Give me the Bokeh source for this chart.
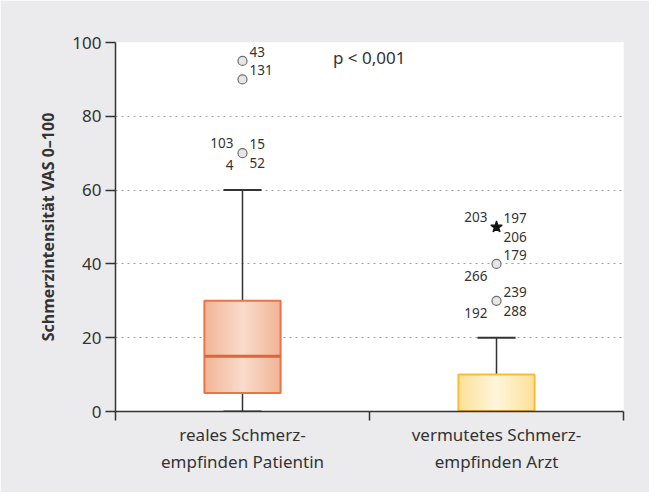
from bokeh.plotting import figure
from bokeh.models import Range1d, FixedTicker, ColumnDataSource, Label
from bokeh.core.properties import value
from bokeh.embed import file_html
from bokeh.resources import INLINE

# ---- data ----
categories = ["reales Schmerz-\nempfinden Patientin", "vermutetes Schmerz-\nempfinden Arzt"]
q1 = [5, 0]
median = [15, 0]
q3 = [30, 10]
whisker_low = [0, 0]
whisker_high = [60, 20]

# outliers: group index, value, marker type
out_group = [0, 0, 0, 1, 1, 1]
out_value = [95, 90, 70, 50, 40, 30]
out_marker = ["circle", "circle", "circle", "star", "circle", "circle"]
# case-number labels for each outlier, with placement (ul, ur, ll, lr)
lab_group = [0, 0, 0, 0, 0, 0, 1, 1, 1, 1, 1, 1, 1, 1]
lab_value = [95, 90, 70, 70, 70, 70, 50, 50, 50, 40, 40, 30, 30, 30]
lab_text = ["43", "131", "103", "15", "4", "52", "203", "197", "206", "179", "266", "239", "192", "288"]
lab_place = ["ur", "ur", "ul", "ur", "ll", "lr", "ul", "ur", "lr", "ur", "ll", "ur", "ll", "lr"]

y_ticks = [0, 20, 40, 60, 80, 100]
p_text = "p < 0,001"
y_title = "Schmerzintensität VAS 0–100"

FONT = "Noto Sans"
TXT = "#333333"

box_edge = ["#f1b597", "#fde099"]
box_mid = ["#f9dbcb", "#fff5d9"]
box_line = ["#e8744a", "#f9bd34"]
median_col = ["#e0643a", "#f6b52c"]

centers = [i + 0.5 for i in range(len(categories))]
bw = 0.3

p = figure(frame_width=508, frame_height=369,
           x_range=Range1d(0, len(categories)), y_range=Range1d(0, 100),
           output_backend="svg", toolbar_location=None,
           min_border_left=115, min_border_top=42, min_border_right=26, min_border_bottom=81,
           background_fill_color="white", border_fill_color="#ebebed")
p.outline_line_color = None
p.xgrid.grid_line_color = None
p.ygrid.grid_line_color = "#a0a0a0"
p.ygrid.grid_line_dash = "2 4"
p.ygrid.grid_line_width = 1

# axes
p.yaxis.ticker = FixedTicker(ticks=y_ticks, minor_ticks=[])
p.yaxis.major_tick_out = 10
p.yaxis.major_tick_in = 0
p.yaxis.major_label_standoff = 4
p.yaxis.axis_label = y_title
p.yaxis.axis_label_text_font = FONT
p.yaxis.axis_label_text_font_style = "bold"
p.yaxis.axis_label_text_font_size = "16px"
p.yaxis.axis_label_text_color = TXT
p.yaxis.axis_label_standoff = 10

p.xaxis.ticker = FixedTicker(ticks=centers, minor_ticks=list(range(len(categories) + 1)))
p.xaxis.major_label_overrides = {c: lab for c, lab in zip(centers, categories)}
p.xaxis.major_tick_out = 0
p.xaxis.major_tick_in = 0
p.xaxis.minor_tick_out = 9
p.xaxis.minor_tick_in = 0
p.xaxis.major_label_standoff = 2

for ax in (p.xaxis[0], p.yaxis[0]):
    ax.axis_line_color = "#333333"
    ax.axis_line_width = 1.5
    ax.major_tick_line_color = "#333333"
    ax.major_tick_line_width = 1.5
    ax.minor_tick_line_color = "#333333"
    ax.minor_tick_line_width = 1.5
    ax.major_label_text_font = FONT
    ax.major_label_text_font_size = "17px"
    ax.major_label_text_color = TXT


def hex2rgb(h):
    h = h.lstrip("#")
    return tuple(int(h[i:i + 2], 16) for i in (0, 2, 4))


def mix(a, b, t):
    ra, rb = hex2rgb(a), hex2rgb(b)
    return "#%02x%02x%02x" % tuple(int(round(x + (y - x) * t)) for x, y in zip(ra, rb))


# whiskers + caps
for i, c in enumerate(centers):
    p.segment(x0=[c, c], y0=[q3[i], q1[i]], x1=[c, c], y1=[whisker_high[i], whisker_low[i]],
              line_color="#333333", line_width=1.5)
    p.segment(x0=[c - bw / 4, c - bw / 4], y0=[whisker_high[i], whisker_low[i]],
              x1=[c + bw / 4, c + bw / 4], y1=[whisker_high[i], whisker_low[i]],
              line_color="#333333", line_width=2)

# boxes with horizontal gradient (overlapping strips, drawn outer to inner)
N = 30
for i, c in enumerate(centers):
    left = c - bw / 2
    p.quad(left=[left], right=[c + bw / 2], bottom=[q1[i]], top=[q3[i]],
           fill_color=box_edge[i], line_color=None)
    lefts, rights, cols = [], [], []
    for k in range(1, N + 1):
        half = bw / 2 * (1 - k / (N + 1))
        lefts.append(c - half)
        rights.append(c + half)
        cols.append(mix(box_edge[i], box_mid[i], k / N))
    p.quad(left=lefts, right=rights, bottom=q1[i], top=q3[i], fill_color=cols, line_color=None)
    p.quad(left=[left], right=[c + bw / 2], bottom=[q1[i]], top=[q3[i]],
           fill_color=None, line_color=box_line[i], line_width=2)
    p.segment(x0=[left], x1=[c + bw / 2], y0=[median[i]], y1=[median[i]],
              line_color=median_col[i], line_width=3)

# outliers
ox = [centers[g] for g in out_group]
for m, fill, line, size in (("circle", "#e6e6e6", "#6e6e6e", 9), ("star", "#111111", "#111111", 12)):
    idx = [k for k, mk in enumerate(out_marker) if mk == m]
    p.scatter(x=[ox[k] for k in idx], y=[out_value[k] for k in idx], marker=m, size=size,
              fill_color=fill, line_color=line, line_width=1.2)

place_style = {"ul": (-9, -10, "right"), "ur": (7, -9, "left"),
               "ll": (-9, 12, "right"), "lr": (7, 10, "left")}
src = ColumnDataSource(dict(
    x=[centers[g] for g in lab_group], y=lab_value, text=lab_text,
    xo=[place_style[pl][0] for pl in lab_place],
    yo=[place_style[pl][1] for pl in lab_place],
    al=[place_style[pl][2] for pl in lab_place]))
p.text(x="x", y="y", text="text", x_offset="xo", y_offset="yo", text_align="al",
       text_baseline="middle", text_font=value(FONT), text_font_size="13.5px",
       text_color=TXT, source=src)

p.add_layout(Label(x=0.856, y=96, text=p_text, text_font=FONT, text_font_size="17px",
                   text_color=TXT, text_baseline="middle", text_align="left"))

open("out.html", "w").write(file_html(p, INLINE))
